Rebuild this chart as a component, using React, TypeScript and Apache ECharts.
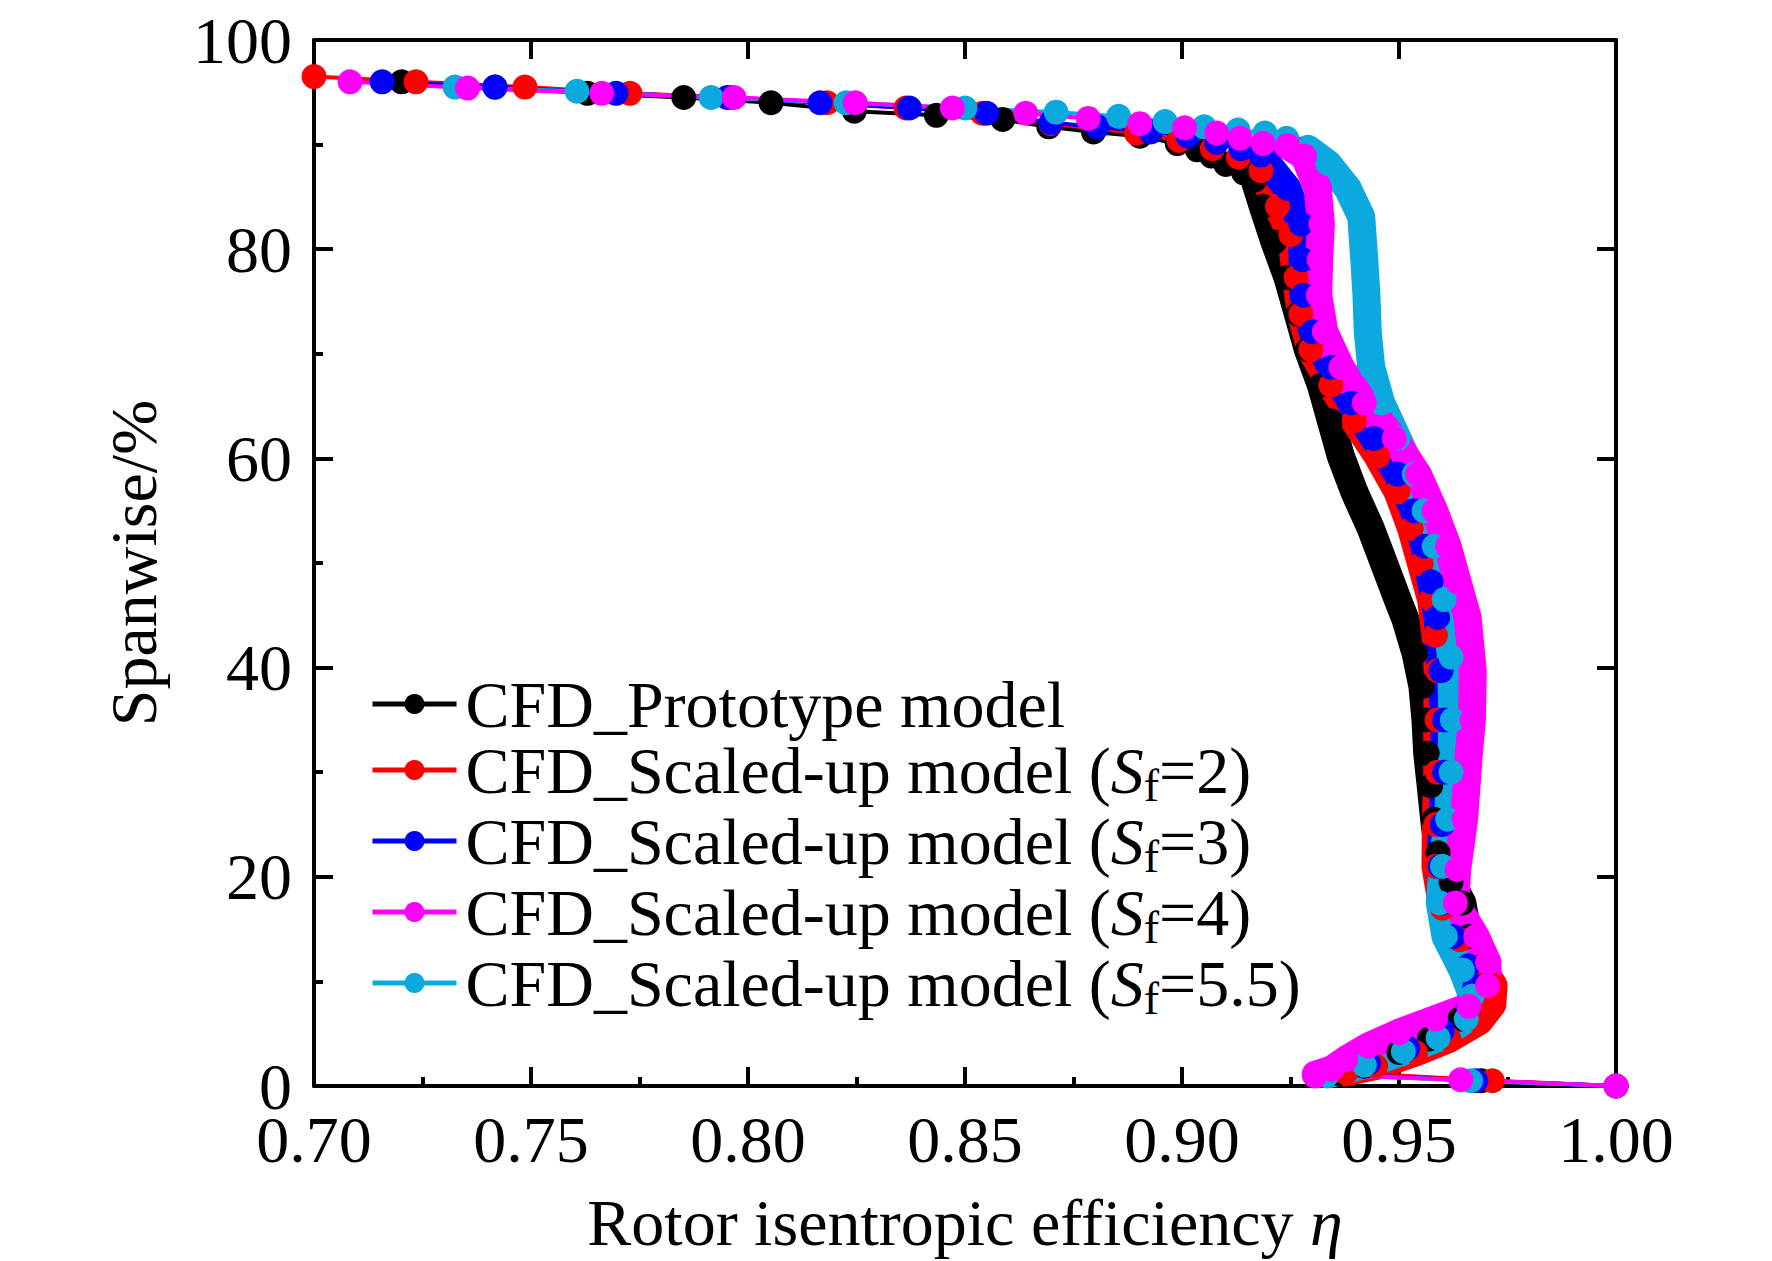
import React, { useEffect, useRef } from "react";
import * as echarts from "echarts";

// ---- data (efficiency, span %) ----
const protoTip = [[0.7202,96.0],[0.7417,95.5],[0.7630,94.9],[0.7852,94.5],[0.8053,94.0],[0.8245,93.2],[0.8434,92.8],[0.8587,92.4],[0.8693,91.7],[0.8796,91.2],[0.8903,90.8],[0.8989,90.1],[0.9035,89.5],[0.9068,88.9],[0.9101,88.1],[0.9142,87.3]];
const protoBody = [[0.9167,86.6],[0.9186,84.1],[0.9213,80.7],[0.9243,77.3],[0.9267,73.8],[0.9290,70.4],[0.9320,67.0],[0.9343,63.6],[0.9366,60.2],[0.9397,56.8],[0.9435,53.3],[0.9466,49.9],[0.9497,46.5],[0.9515,44.6],[0.9538,41.4],[0.9554,38.2],[0.9561,35.0],[0.9565,31.8],[0.9573,28.7],[0.9581,25.5],[0.9590,22.3],[0.9620,19.5],[0.9646,17.5],[0.9660,14.3],[0.9670,11.1],[0.9670,8.5],[0.9640,6.4],[0.9570,4.5],[0.9500,3.2],[0.9420,1.9],[0.9360,1.2]];
const protoHub = [[0.9690,0.5],[1.0,0]];

const sf2Tip = [[0.7000,96.5],[0.7235,96.0],[0.7486,95.5],[0.7728,94.9],[0.7960,94.5],[0.8182,94.0],[0.8364,93.5],[0.8540,93.0],[0.8698,92.0],[0.8895,91.1],[0.8993,90.4],[0.9070,89.6],[0.9130,88.8]];
const sf2Body = [[0.9182,87.5],[0.9220,84.1],[0.9251,81.4],[0.9263,77.3],[0.9274,73.8],[0.9297,70.4],[0.9343,67.0],[0.9397,63.6],[0.9451,60.2],[0.9497,56.8],[0.9528,53.3],[0.9551,49.9],[0.9574,46.5],[0.9584,43.1],[0.9589,39.7],[0.9588,35.0],[0.9588,30.0],[0.9585,25.0],[0.9584,21.0],[0.9600,17.0],[0.9640,14.0],[0.9690,11.5],[0.9718,9.6],[0.9715,7.8],[0.9685,6.2],[0.9615,4.5],[0.9538,3.2],[0.9446,1.9],[0.9377,1.3]];
const sf2Hub = [[0.9715,0.5],[1.0,0]];

const sf3Tip = [[0.7157,96.0],[0.7417,95.5],[0.7696,94.9],[0.7952,94.5],[0.8166,94.0],[0.8372,93.5],[0.8550,93.0],[0.8698,92.1],[0.8805,91.7],[0.8928,91.2],[0.9014,90.8],[0.9080,90.2],[0.9136,89.6]];
const sf3Body = [[0.9182,89.0],[0.9243,85.8],[0.9274,82.4],[0.9278,79.0],[0.9280,75.6],[0.9301,72.1],[0.9343,68.7],[0.9390,65.3],[0.9443,61.9],[0.9497,58.5],[0.9535,55.0],[0.9559,51.6],[0.9574,48.2],[0.9589,44.8],[0.9597,39.7],[0.9605,35.0],[0.9605,30.0],[0.9600,25.0],[0.9595,21.0],[0.9600,17.5],[0.9625,14.3],[0.9660,11.5],[0.9675,9.5],[0.9660,7.5],[0.9600,5.3],[0.9520,3.6],[0.9430,2.2],[0.9335,1.2]];
const sf3Hub = [[0.9677,0.5],[1.0,0]];

const sf4Tip = [[0.7083,96.0],[0.7354,95.4],[0.7663,94.9],[0.7968,94.5],[0.8247,94.0],[0.8471,93.5],[0.8640,93.0],[0.8784,92.5],[0.8903,92.0],[0.9006,91.6],[0.9080,91.1],[0.9134,90.6],[0.9187,90.1]];
const sf4Body = [[0.9243,89.9],[0.9282,88.9],[0.9313,85.8],[0.9320,82.4],[0.9316,79.0],[0.9314,75.6],[0.9328,72.1],[0.9366,68.7],[0.9420,65.3],[0.9489,61.9],[0.9543,58.5],[0.9581,55.0],[0.9612,51.6],[0.9635,48.2],[0.9658,44.8],[0.9670,39.7],[0.9668,35.0],[0.9661,31.8],[0.9650,25.5],[0.9634,20.7],[0.9630,17.5],[0.9677,14.3],[0.9704,11.8],[0.9704,9.6],[0.9661,7.6],[0.9584,6.4],[0.9500,5.1],[0.9430,3.8],[0.9377,2.5],[0.9346,1.6],[0.9308,1.1]];
const sf4Hub = [[0.9642,0.6],[1.0,0]];

const sf55Tip = [[0.7325,95.5],[0.7606,95.1],[0.7915,94.5],[0.8226,94.0],[0.8500,93.5],[0.8710,93.1],[0.8854,92.7],[0.8961,92.2],[0.9051,91.7],[0.9129,91.4],[0.9191,91.1],[0.9241,90.6]];
const sf55Body = [[0.9290,89.6],[0.9336,88.2],[0.9382,85.8],[0.9413,83.1],[0.9420,79.0],[0.9425,75.6],[0.9428,72.1],[0.9436,68.7],[0.9459,65.3],[0.9497,61.9],[0.9535,58.5],[0.9558,55.0],[0.9581,51.6],[0.9604,46.5],[0.9620,41.0],[0.9623,35.0],[0.9620,30.0],[0.9612,25.5],[0.9600,21.0],[0.9594,17.5],[0.9607,14.3],[0.9646,11.1],[0.9669,8.6],[0.9655,6.4],[0.9590,4.6],[0.9510,3.3],[0.9420,2.0],[0.9335,1.1]];
const sf55Hub = [[0.9665,0.5],[1.0,0]];

const xTicks = { min: 0.7, max: 1.0, interval: 0.05 };
const yTicks = { min: 0, max: 100, interval: 20 };

const legendNames = [
  "CFD_Prototype model",
  "CFD_Scaled-up model (Sf=2)",
  "CFD_Scaled-up model (Sf=3)",
  "CFD_Scaled-up model (Sf=4)",
  "CFD_Scaled-up model (Sf=5.5)",
];
const sfValues = ["", "2", "3", "4", "5.5"];

const FONT = '"Liberation Serif", "Times New Roman", serif';

const models = [
  { name: legendNames[0], color: "#000000", tip: protoTip, body: protoBody, hub: protoHub },
  { name: legendNames[1], color: "#FF0000", tip: sf2Tip, body: sf2Body, hub: sf2Hub },
  { name: legendNames[2], color: "#0000FF", tip: sf3Tip, body: sf3Body, hub: sf3Hub },
  { name: legendNames[4], color: "#0BA9DE", tip: sf55Tip, body: sf55Body, hub: sf55Hub },
  { name: legendNames[3], color: "#FF00FF", tip: sf4Tip, body: sf4Body, hub: sf4Hub },
];

export default function App() {
  const ref = useRef<HTMLDivElement>(null);
  useEffect(() => {
    if (!ref.current) return;
    const chart = echarts.init(ref.current, undefined, { renderer: "svg" });
    const series: any[] = [];
    models.forEach((m, i) => {
      series.push({
        name: "band" + i,
        type: "line",
        data: m.body,
        symbol: "none",
        lineStyle: { width: 28, color: m.color, cap: "round", join: "round" },
        silent: true,
      });
      series.push({
        name: m.name,
        type: "line",
        data: [...m.tip, ...m.body, ...m.hub],
        symbol: "circle",
        symbolSize: 25,
        itemStyle: { color: m.color, borderWidth: 0 },
        lineStyle: { width: 4, color: m.color },
      });
    });
    const axisLine = { show: true, onZero: false, lineStyle: { color: "#000", width: 4 } };
    const tick = { show: true, inside: true, length: 19, lineStyle: { color: "#000", width: 4 } };
    const minor = { show: true, splitNumber: 2, length: 9, lineStyle: { color: "#000", width: 4 } };
    const labelStyle = { fontFamily: FONT, fontSize: 66, color: "#000", lineHeight: 50 };
    chart.setOption({
      animation: false,
      backgroundColor: "#fff",
      textStyle: { fontFamily: FONT },
      grid: { left: 314, top: 40, width: 1302, height: 1046, containLabel: false },
      legend: {
        data: legendNames,
        orient: "vertical",
        left: 370,
        top: 671,
        padding: 0,
        itemGap: 0,
        itemWidth: 84,
        itemHeight: 25,
        lineStyle: { width: 5 },
        formatter: (name: string) => {
          const idx = legendNames.indexOf(name);
          if (idx === 0) return "{n0|CFD_Prototype model}";
          return "{n0|CFD_Scaled-up model (}{i|S}{s|f}{n|=" + sfValues[idx] + ")}";
        },
        textStyle: {
          color: "#000",
          fontFamily: FONT,
          fontSize: 66,
          rich: {
            n0: { fontFamily: FONT, fontSize: 66, lineHeight: 76, color: "#000", padding: [0, 0, 0, 4] },
            n: { fontFamily: FONT, fontSize: 66, lineHeight: 76, color: "#000" },
            i: { fontFamily: FONT, fontSize: 66, lineHeight: 76, fontStyle: "italic", color: "#000" },
            s: { fontFamily: FONT, fontSize: 46, lineHeight: 28, verticalAlign: "bottom", color: "#000" },
          },
        },
      },
      xAxis: [
        {
          type: "value",
          position: "bottom",
          min: xTicks.min,
          max: xTicks.max,
          interval: xTicks.interval,
          name: "{n|Rotor isentropic efficiency }{i|η}",
          nameLocation: "middle",
          nameGap: 103,
          nameTextStyle: {
            fontFamily: FONT,
            fontSize: 66,
            color: "#000",
            rich: {
              n: { fontFamily: FONT, fontSize: 66, color: "#000" },
              i: { fontFamily: FONT, fontSize: 66, fontStyle: "italic", color: "#000" },
            },
          },
          axisLine,
          axisTick: tick,
          minorTick: minor,
          splitLine: { show: false },
          axisLabel: { ...labelStyle, margin: 28, formatter: (v: number) => v.toFixed(2) },
        },
        {
          type: "value",
          position: "top",
          min: xTicks.min,
          max: xTicks.max,
          interval: xTicks.interval,
          axisLine,
          axisTick: tick,
          splitLine: { show: false },
          axisLabel: { show: false },
        },
      ],
      yAxis: [
        {
          type: "value",
          position: "left",
          min: yTicks.min,
          max: yTicks.max,
          interval: yTicks.interval,
          name: "Spanwise/%",
          nameLocation: "middle",
          nameGap: 148,
          nameTextStyle: { fontFamily: FONT, fontSize: 66, color: "#000" },
          axisLine,
          axisTick: tick,
          minorTick: minor,
          splitLine: { show: false },
          axisLabel: {
            ...labelStyle,
            margin: 22,
            formatter: (v: number) => String(Math.round(v)),
          },
        },
        {
          type: "value",
          position: "right",
          min: yTicks.min,
          max: yTicks.max,
          interval: yTicks.interval,
          axisLine,
          axisTick: tick,
          splitLine: { show: false },
          axisLabel: { show: false },
        },
      ],
      series,
    });
    return () => chart.dispose();
  }, []);
  return (
    <div
      ref={ref}
      style={{ position: "absolute", left: 0, top: 0, width: 1772, height: 1261, background: "#fff" }}
    />
  );
}
